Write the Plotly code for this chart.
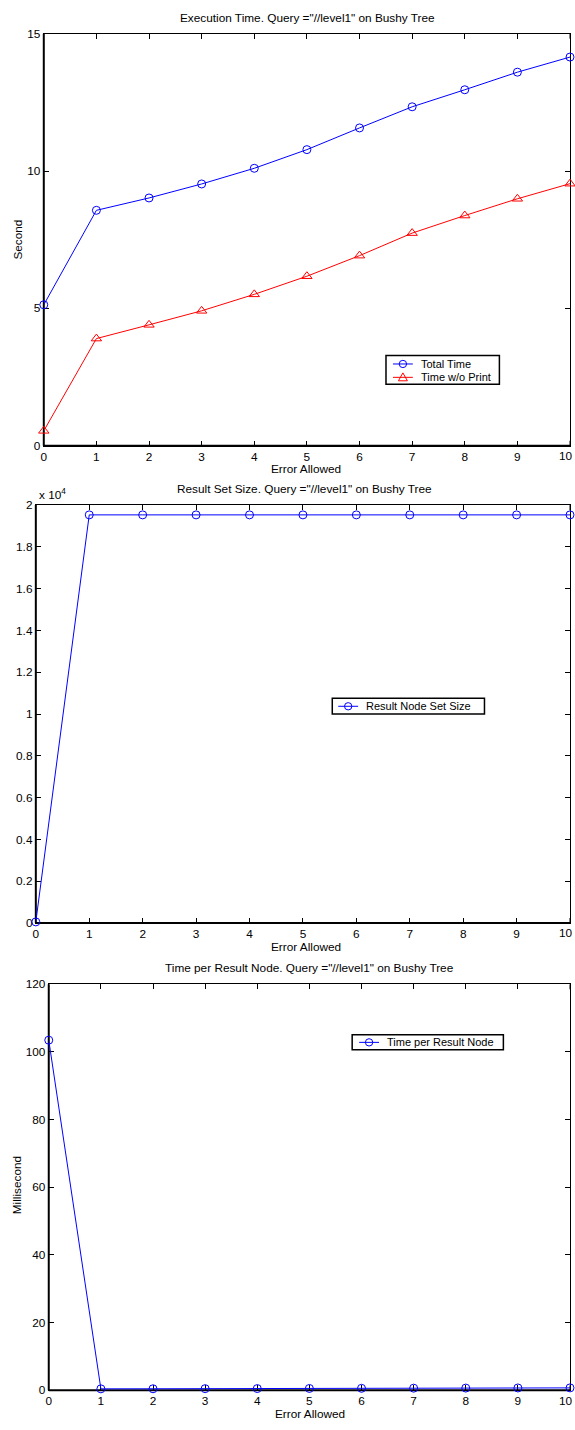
import plotly.graph_objects as go

# ---- data ----
errors = [0, 1, 2, 3, 4, 5, 6, 7, 8, 9, 10]
total_time = [5.13, 8.57, 9.02, 9.53, 10.10, 10.78, 11.57, 12.34, 12.96, 13.60, 14.15]
time_no_print = [0.54, 3.90, 4.40, 4.91, 5.51, 6.17, 6.92, 7.74, 8.38, 8.99, 9.54]
result_size = [50, 19531, 19531, 19531, 19531, 19531, 19531, 19531, 19531, 19531, 19531]
time_per_node = [103.5, 0.44, 0.46, 0.49, 0.52, 0.55, 0.59, 0.63, 0.66, 0.70, 0.72]

x_ticks = [0, 1, 2, 3, 4, 5, 6, 7, 8, 9, 10]
y1_ticks = [0, 5, 10, 15]
y2_tickvals = [0, 2000, 4000, 6000, 8000, 10000, 12000, 14000, 16000, 18000, 20000]
y2_ticktext = ["0", "0.2", "0.4", "0.6", "0.8", "1", "1.2", "1.4", "1.6", "1.8", "2"]
y3_ticks = [0, 20, 40, 60, 80, 100, 120]

W, H = 575, 1430
FONT = "Liberation Sans, Arial, Helvetica, sans-serif"
FS = 11.8
LEG_FS = 11
BLUE = "rgb(0,0,255)"
RED = "rgb(255,0,0)"


def px(xp):
    return xp / W


def py(yp):
    return 1 - yp / H


fig = go.Figure()

circle = dict(symbol="circle-open", size=8, line=dict(width=1))
triangle = dict(symbol="triangle-up-open", size=9, line=dict(width=1))

fig.add_trace(go.Scatter(x=errors, y=total_time, mode="lines+markers", name="Total Time",
                         line=dict(color=BLUE, width=1), marker=dict(color=BLUE, **circle),
                         xaxis="x", yaxis="y", cliponaxis=False))
fig.add_trace(go.Scatter(x=errors, y=time_no_print, mode="lines+markers", name="Time w/o Print",
                         line=dict(color=RED, width=1), marker=dict(color=RED, **triangle),
                         xaxis="x", yaxis="y", cliponaxis=False))
fig.add_trace(go.Scatter(x=errors, y=result_size, mode="lines+markers", name="Result Node Set Size",
                         line=dict(color=BLUE, width=1), marker=dict(color=BLUE, **circle),
                         xaxis="x2", yaxis="y2", cliponaxis=False))
fig.add_trace(go.Scatter(x=errors, y=time_per_node, mode="lines+markers", name="Time per Result Node",
                         line=dict(color=BLUE, width=1), marker=dict(color=BLUE, **circle),
                         xaxis="x3", yaxis="y3", cliponaxis=False))

# panel boxes in pixel coordinates: (left, right, top, bottom)
panels = {
    1: (41, 570, 27, 443),
    2: (33, 570, 503, 925),
    3: (46, 570, 987, 1397),
}

axis_common = dict(showline=True, linecolor="black", linewidth=1, mirror="ticks",
                   ticks="inside", ticklen=5, tickwidth=1, tickcolor="black",
                   showgrid=False, zeroline=False, layer="below traces",
                   tickfont=dict(family=FONT, size=FS, color="black"))

layout = dict(width=W, height=H, margin=dict(l=0, r=0, t=0, b=0),
              paper_bgcolor="white", plot_bgcolor="white", showlegend=False,
              font=dict(family=FONT, size=FS, color="black"))

y_specs = {
    1: dict(range=[0, 15], tickvals=y1_ticks),
    2: dict(range=[0, 20000], tickvals=y2_tickvals, ticktext=y2_ticktext),
    3: dict(range=[0, 120], tickvals=y3_ticks),
}

for i, (l, r, t, b) in panels.items():
    sx = "" if i == 1 else str(i)
    # the last x label sits on the page edge and is placed separately below
    layout["xaxis" + sx] = dict(domain=[px(l), px(r)], anchor="y" + sx, range=[0, 10],
                                tickvals=x_ticks[:-1], **axis_common)
    layout["yaxis" + sx] = dict(domain=[py(b), py(t)], anchor="x" + sx, **y_specs[i], **axis_common)

fig.update_layout(**layout)

shapes = []

for i, (l, r, t, b) in panels.items():
    sx = "" if i == 1 else str(i)
    xr, yr = "x" + sx + " domain", "y" + sx + " domain"
    # heavier left and bottom axis lines
    shapes.append(dict(type="line", xref=xr, yref=yr, x0=0, x1=0, y0=0, y1=1,
                       line=dict(color="black", width=2), layer="below"))
    shapes.append(dict(type="line", xref=xr, yref=yr, x0=0, x1=1, y0=0, y1=0,
                       line=dict(color="black", width=2), layer="below"))
    # tick marks at the last x value (bottom and top)
    for y0, y1 in ((0, 5 / (b - t)), (1, 1 - 5 / (b - t))):
        shapes.append(dict(type="line", xref="x" + sx, yref=yr, x0=x_ticks[-1], x1=x_ticks[-1],
                           y0=y0, y1=y1, line=dict(color="black", width=1), layer="below"))
    # last x tick label, right-aligned to the page edge
    fig.add_annotation(x=1, y=py(b + 10.5), xref="paper", yref="paper", text=str(x_ticks[-1]),
                       showarrow=False, xanchor="right", yanchor="middle",
                       font=dict(family=FONT, size=FS, color="black"))


def text(xp, yp, s, angle=0, anchor="center", size=FS):
    fig.add_annotation(x=px(xp), y=py(yp), xref="paper", yref="paper", text=s,
                       showarrow=False, textangle=angle, xanchor=anchor, yanchor="middle",
                       font=dict(family=FONT, size=size, color="black"))


# legend boxes (MATLAB style): box, then one row per series
def legend_box(l, r, t, b, rows):
    shapes.append(dict(type="rect", xref="paper", yref="paper",
                       x0=px(l), x1=px(r), y0=py(b), y1=py(t),
                       line=dict(color="black", width=1.5), fillcolor="white", layer="above"))
    for (x0, x1, yc, color, sym, label) in rows:
        shapes.append(dict(type="line", xref="paper", yref="paper",
                           x0=px(x0), x1=px(x1), y0=py(yc), y1=py(yc),
                           line=dict(color=color, width=1), layer="above"))
        xm = (x0 + x1) / 2
        if sym == "circle":
            shapes.append(dict(type="circle", xref="paper", yref="paper",
                               x0=px(xm - 3.7), x1=px(xm + 3.7), y0=py(yc + 3.7), y1=py(yc - 3.7),
                               line=dict(color=color, width=1), fillcolor="rgba(0,0,0,0)",
                               layer="above"))
        else:
            path = "M {} {} L {} {} L {} {} Z".format(
                px(xm - 4.5), py(yc + 3.5), px(xm + 4.5), py(yc + 3.5), px(xm), py(yc - 4.5))
            shapes.append(dict(type="path", xref="paper", yref="paper", path=path,
                               line=dict(color=color, width=1), fillcolor="rgba(0,0,0,0)",
                               layer="above"))
        text(x1 + 6, yc, label, anchor="left", size=LEG_FS)


legend_box(385, 499, 352, 381, [
    (392, 412, 360.5, BLUE, "circle", "Total Time"),
    (392, 412, 374.0, RED, "triangle", "Time w/o Print"),
])
legend_box(331, 484, 698, 714, [
    (337, 357, 706.2, BLUE, "circle", "Result Node Set Size"),
])
legend_box(351, 503, 1038, 1053, [
    (358, 378, 1045.6, BLUE, "circle", "Time per Result Node"),
])

fig.update_layout(shapes=shapes)

# titles and axis labels
text(306, 11, 'Execution Time. Query ="//level1" on Bushy Tree')
text(305, 467, "Error Allowed")
text(15, 235, "Second", angle=-90)

text(303, 487, 'Result Set Size. Query ="//level1" on Bushy Tree')
text(50, 492, "x 10<sup>4</sup>")
text(305, 949, "Error Allowed")

text(308, 970, 'Time per Result Node. Query ="//level1" on Bushy Tree')
text(309, 1421, "Error Allowed")
text(14, 1190, "Millisecond", angle=-90)

fig.write_html("out.html")
